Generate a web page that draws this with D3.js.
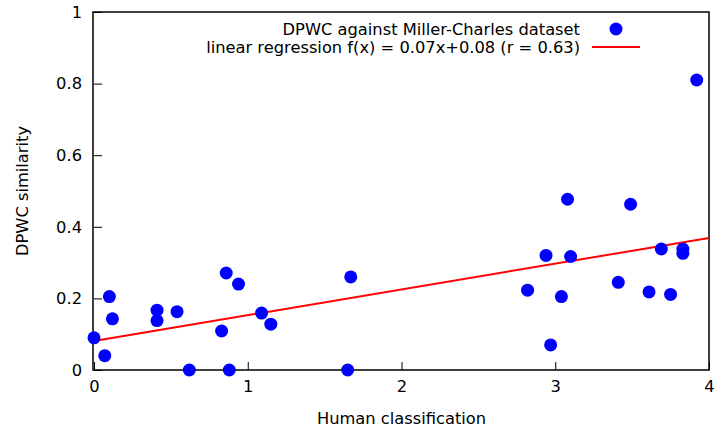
<!DOCTYPE html>
<html>
<head>
<meta charset="utf-8">
<script src="https://cdn.jsdelivr.net/npm/d3@7"></script>
<style>
  body { margin: 0; background: #fff; }
  text { font-family: "DejaVu Sans", sans-serif; fill: #000; }
</style>
</head>
<body>
<svg id="chart"></svg>
<script>
// Human score vs DPWC similarity
const human = [0.00, 0.07, 0.10, 0.12, 0.41, 0.41, 0.54, 0.62, 0.83, 0.86, 0.88, 0.94,
    1.09, 1.15, 1.65, 1.67, 2.82, 2.94, 2.97, 3.04, 3.08, 3.10, 3.41, 3.49, 3.61,
    3.69, 3.75, 3.83, 3.83, 3.92];
const dpwc = [0.09, 0.04, 0.205, 0.143, 0.167, 0.138, 0.163, 0.0, 0.109, 0.271, 0.0, 0.240,
    0.159, 0.128, 0.0, 0.260, 0.223, 0.320, 0.070, 0.205, 0.477, 0.317, 0.245, 0.463, 0.218,
    0.338, 0.211, 0.338, 0.326, 0.810];
const fitSlope = 0.072;
const fitIntercept = 0.081;
const xTicks = [0, 1, 2, 3, 4];
const yTicks = [0, 0.2, 0.4, 0.6, 0.8, 1];
const legendLabels = ["DPWC against Miller-Charles dataset",
    "linear regression f(x) = 0.07x+0.08 (r = 0.63)"];

const WIDTH = 714, HEIGHT = 430;
const margin = {left: 94, right: 5, top: 12, bottom: 60};
const FONT = "16.3px";

const svg = d3.select("#chart")
    .attr("width", WIDTH)
    .attr("height", HEIGHT);

const x = d3.scaleLinear()
    .domain([0, 4])
    .range([margin.left, WIDTH - margin.right]);

const y = d3.scaleLinear()
    .domain([0, 1])
    .range([HEIGHT - margin.bottom, margin.top]);

// axes with inward ticks
svg.append("g")
    .attr("transform", `translate(0,${y(0)})`)
    .call(d3.axisBottom(x).tickValues(xTicks).tickSize(-8).tickPadding(10).tickFormat(d3.format("d")))
    .call(g => g.select(".domain").remove())
    .call(g => g.selectAll("text").style("font-size", FONT));

svg.append("g")
    .attr("transform", `translate(${x(0)},0)`)
    .call(d3.axisLeft(y).tickValues(yTicks).tickSize(-8).tickPadding(12).tickFormat(d => d === 0 || d === 1 ? d : d3.format(".1f")(d)))
    .call(g => g.select(".domain").remove())
    .call(g => g.selectAll("text").style("font-size", FONT));

// border
svg.append("rect")
    .attr("x", x(0) - 1)
    .attr("y", y(1))
    .attr("width", x(4) - x(0) + 1)
    .attr("height", y(0) - y(1))
    .attr("fill", "none")
    .attr("stroke", "#000")
    .attr("stroke-width", 1.5);

// regression line
svg.append("line")
    .attr("x1", x(0)).attr("y1", y(fitIntercept))
    .attr("x2", x(4)).attr("y2", y(fitIntercept + fitSlope * 4))
    .attr("stroke", "#ff0000")
    .attr("stroke-width", 2);

// points
svg.selectAll("circle.pt")
    .data(d3.zip(human, dpwc))
    .enter()
    .append("circle")
    .attr("class", "pt")
    .attr("cx", ([a, b]) => x(a))
    .attr("cy", ([a, b]) => y(b))
    .attr("r", 6.5)
    .attr("fill", "#0000ff");

// axis titles
svg.append("text")
    .attr("x", (x(0) + x(4)) / 2)
    .attr("y", 424)
    .attr("text-anchor", "middle")
    .style("font-size", FONT)
    .text("Human classification");

svg.append("text")
    .attr("transform", `translate(28,${(y(0) + y(1)) / 2}) rotate(-90)`)
    .attr("text-anchor", "middle")
    .style("font-size", FONT)
    .text("DPWC similarity");

// legend
const legend = svg.append("g");
legend.selectAll("text")
    .data(legendLabels)
    .enter()
    .append("text")
    .attr("x", 580)
    .attr("y", (d, i) => 35 + i * 18)
    .attr("text-anchor", "end")
    .style("font-size", FONT)
    .text(d => d);

legend.append("circle")
    .attr("cx", 616).attr("cy", 29).attr("r", 6.5)
    .attr("fill", "#0000ff");

legend.append("line")
    .attr("x1", 592).attr("x2", 640)
    .attr("y1", 47).attr("y2", 47)
    .attr("stroke", "#ff0000")
    .attr("stroke-width", 2);
</script>
</body>
</html>
